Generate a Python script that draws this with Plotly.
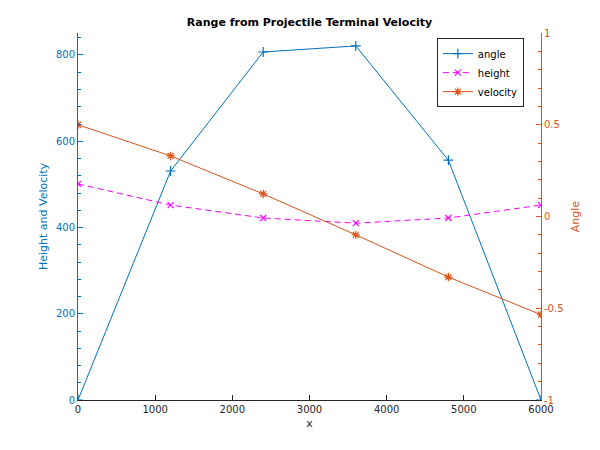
import plotly.graph_objects as go

x_vals = [0, 1200, 2400, 3600, 4800, 6000]
angle = [0, 531, 807, 821, 556, 0]
height = [501, 452, 422, 410, 422, 452]
velocity = [0.5, 0.33, 0.123, -0.1, -0.33, -0.535]

BLUE = "#0072BD"
ORANGE = "#D95319"
MAG = "#FF00FF"
DARK = "#262626"
FONT = "DejaVu Sans"

fig = go.Figure()
fig.add_trace(go.Scatter(x=x_vals, y=angle, name="angle", mode="lines+markers",
                         line=dict(color=BLUE, width=1),
                         marker=dict(symbol="cross-thin-open", size=7, line=dict(color=BLUE, width=1.2))))
fig.add_trace(go.Scatter(x=x_vals, y=height, name="height", mode="lines+markers",
                         line=dict(color=MAG, width=1, dash="6px,4px"),
                         marker=dict(symbol="x-thin-open", size=6, line=dict(color=MAG, width=1.2))))
fig.add_trace(go.Scatter(x=x_vals, y=velocity, name="velocity", mode="lines+markers", yaxis="y2",
                         line=dict(color=ORANGE, width=1),
                         marker=dict(symbol="asterisk-open", size=7, line=dict(color=ORANGE, width=1.2))))

fig.update_layout(
    width=600, height=450,
    paper_bgcolor="white", plot_bgcolor="white",
    margin=dict(l=70, r=67, t=25, b=58),
    font=dict(family=FONT, size=10, color=DARK),
    title=dict(text="<b>Range from Projectile Terminal Velocity</b>", x=(78 + 541) / 2 / 600 - 8 / 600,
               xanchor="center", y=1 - 14 / 450, yanchor="middle",
               font=dict(size=11, color="black")),
    showlegend=True,
    legend=dict(x=0.963, xanchor="right", y=0.986, yanchor="top",
                bgcolor="white", bordercolor=DARK, borderwidth=1,
                font=dict(size=10, color="black"), tracegroupgap=0, itemwidth=30),
    xaxis=dict(range=[0, 6000], dtick=1000, ticks="inside", ticklen=5, tickcolor=DARK,
               showline=True, linecolor=DARK, linewidth=1, showgrid=False, zeroline=False,
               title=dict(text="x", standoff=5, font=dict(size=11, color=DARK)),
               tickfont=dict(size=10, color=DARK)),
    yaxis=dict(range=[0, 851], tickvals=[0, 200, 400, 600, 800], ticks="inside", ticklen=5,
               tickcolor=BLUE, showline=True, linecolor=BLUE, linewidth=1,
               showgrid=False, zeroline=False,
               minor=dict(ticks="inside", dtick=40, ticklen=3, tickcolor=BLUE, showgrid=False),
               title=dict(text="Height and Velocity", standoff=6, font=dict(size=11, color=BLUE)),
               tickfont=dict(size=10, color=BLUE)),
    yaxis2=dict(range=[-1, 1], overlaying="y", side="right",
                tickvals=[-1, -0.5, 0, 0.5, 1], ticktext=["-1", "-0.5", "0", "0.5", "1"],
                ticks="inside", ticklen=5, tickcolor=ORANGE,
                showline=True, linecolor=ORANGE, linewidth=1, showgrid=False, zeroline=False,
                minor=dict(ticks="inside", dtick=0.1, ticklen=3, tickcolor=ORANGE, showgrid=False),
                title=dict(text="Angle", standoff=8, font=dict(size=11, color=ORANGE)),
                tickfont=dict(size=10, color=ORANGE)),
)

fig.write_html("out.html")
